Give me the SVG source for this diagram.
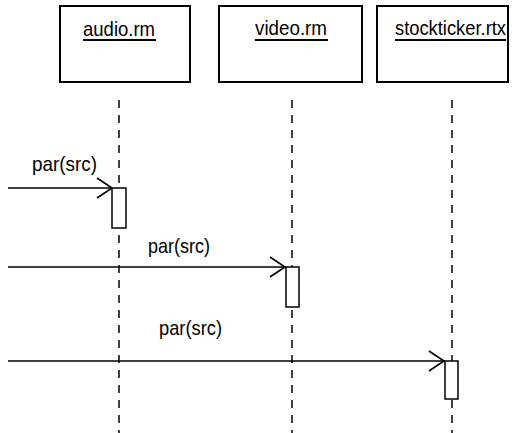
<svg xmlns="http://www.w3.org/2000/svg" width="523" height="433" viewBox="0 0 523 433">
<style>
.obj{fill:#fff;stroke:#000;stroke-width:2}
.t{font-family:"Liberation Sans",Arial,sans-serif;font-size:21px;fill:#000}
.life{stroke:#000;stroke-width:1.5;stroke-dasharray:8 7;fill:none}
.msg{stroke:#000;stroke-width:1.6;fill:none}
.act{fill:#fff;stroke:#000;stroke-width:1.5}
</style>
<rect width="523" height="433" fill="#fff"/>
<g id="audio">
<rect class="obj" x="60" y="6" width="130" height="76"/>
<text class="t" x="83" y="36" textLength="72" lengthAdjust="spacingAndGlyphs">audio.rm</text>
<rect x="83" y="39" width="73" height="2" fill="#000"/>
</g>
<g id="video">
<rect class="obj" x="219" y="6" width="143" height="76"/>
<text class="t" x="255" y="35" textLength="72" lengthAdjust="spacingAndGlyphs">video.rm</text>
<rect x="255" y="39" width="73" height="2" fill="#000"/>
</g>
<g id="stockticker">
<rect class="obj" x="377" y="6" width="131" height="76"/>
<text class="t" x="395" y="35" textLength="111" lengthAdjust="spacingAndGlyphs">stockticker.rtx</text>
<rect x="395" y="39" width="111" height="2" fill="#000"/>
</g>
<g id="connectors">
<line class="life" x1="119" y1="100" x2="119" y2="433"/>
<line class="life" x1="292" y1="100" x2="292" y2="433"/>
<line class="life" x1="452" y1="100" x2="452" y2="433"/>
<line class="msg" x1="8" y1="188" x2="112" y2="188"/>
<polyline class="msg" points="97,178 112,188 97,198"/>
<text class="t" x="32" y="171" textLength="65" lengthAdjust="spacingAndGlyphs">par(src)</text>
<line class="msg" x1="8" y1="267" x2="286" y2="267"/>
<polyline class="msg" points="270,257 285,267 270,277"/>
<text class="t" x="148" y="253" textLength="62" lengthAdjust="spacingAndGlyphs">par(src)</text>
<line class="msg" x1="8" y1="361" x2="445" y2="361"/>
<polyline class="msg" points="429,351 444,361 429,371"/>
<text class="t" x="159" y="335" textLength="63" lengthAdjust="spacingAndGlyphs">par(src)</text>
</g>
<g id="activations">
<rect class="act" x="112" y="188" width="14" height="40"/>
<rect class="act" x="286" y="267" width="13" height="40"/>
<rect class="act" x="445" y="361" width="13" height="38"/>
</g>
</svg>
